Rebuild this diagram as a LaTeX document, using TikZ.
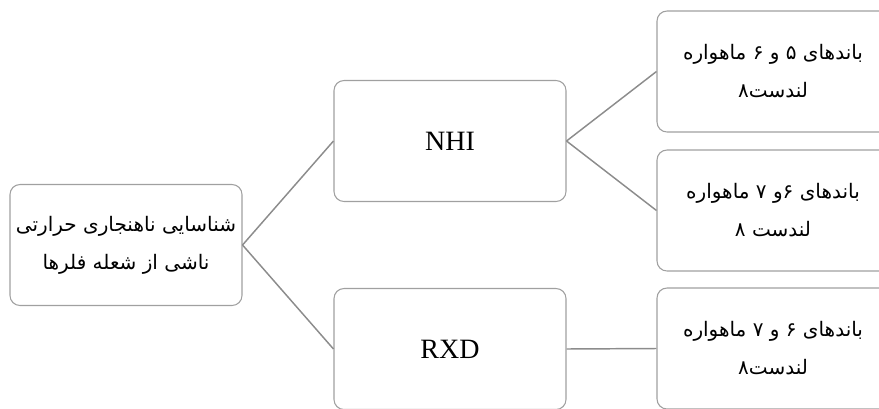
\documentclass[tikz,border=0pt]{standalone}
\usepackage{fontspec}
\setmainfont{Liberation Serif}
\newfontfamily\arabicfont[Script=Arabic]{DejaVu Sans}
\TeXXeTstate=1
\definecolor{boxline}{HTML}{A0A0A0}
\definecolor{linkline}{HTML}{8C8C8C}

\begin{document}
\begin{tikzpicture}[x=0.75pt, y=-0.75pt,
    align=center,
    box/.style={draw=boxline, line width=0.8pt, rounded corners=7.5pt,
      minimum width=174pt, minimum height=90.75pt, inner sep=2pt},
    fa/.style={font=\arabicfont\fontsize{15}{28.5}\selectfont},
    en/.style={font=\fontsize{21}{24}\selectfont},
    link/.style={draw=linkline, line width=1.1pt}]
    \useasboundingbox (0,0) rectangle (879,408);
    \node[box, fa] (1) at (126,245) {\beginR شناسایی ناهنجاری حرارتی\endR\\\beginR ناشی از شعله فلرها\endR};
    \node[box, en] (2) at (450,141) {NHI};
    \node[box, en] (3) at (450,349) {RXD};
    \node[box, fa] (4) at (773,71.5) {\beginR باندهای ۵ و ۶ ماهواره\endR\\\beginR لندست۸\endR};
    \node[box, fa] (5) at (773,210.5) {\beginR باندهای ۶و ۷ ماهواره\endR\\\beginR لندست ۸\endR};
    \node[box, fa] (6) at (773,348.5) {\beginR باندهای ۶ و ۷ ماهواره\endR\\\beginR لندست۸\endR};
    \path[link] (1.east) edge (2.west)
                (1.east) edge (3.west)
                (2.east) edge (4.west)
                (2.east) edge (5.west)
                (3.east) edge (6.west);
\end{tikzpicture}
\end{document}
